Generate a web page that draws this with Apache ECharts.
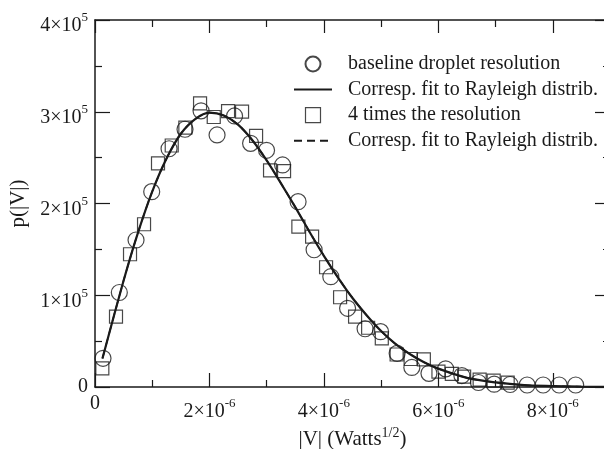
<!DOCTYPE html>
<html>
<head>
<meta charset="utf-8">
<script src="https://cdn.jsdelivr.net/npm/echarts@6/dist/echarts.min.js"></script>
<style>html,body{margin:0;padding:0;background:#fff;}#c{width:604px;height:449px;}</style>
</head>
<body>
<div id="c"></div>
<script>
// |V| in units of 1e-6 Watts^1/2, p(|V|) in units of 1e5
var baselineX = [0.14,0.425,0.717,0.991,1.294,1.573,1.853,2.133,2.439,2.719,2.998,3.278,3.549,3.829,4.121,4.414,4.72,4.991,5.28,5.537,5.836,6.128,6.411,6.701,6.976,7.255,7.552,7.832,8.112,8.40];
var baselineY = [0.313,1.03,1.602,2.129,2.597,2.809,3.01,2.747,2.954,2.656,2.58,2.42,2.02,1.496,1.202,0.858,0.635,0.603,0.367,0.213,0.149,0.198,0.125,0.049,0.031,0.027,0.022,0.022,0.022,0.022];
var fourX = [0.128,0.367,0.612,0.857,1.101,1.341,1.579,1.836,2.075,2.325,2.57,2.815,3.059,3.304,3.554,3.794,4.038,4.283,4.545,4.773,5.012,5.271,5.516,5.747,6.002,6.236,6.451,6.722,6.967,7.212];
var fourY = [0.204,0.766,1.447,1.774,2.438,2.632,2.828,3.092,2.943,3.006,3.001,2.738,2.362,2.352,1.747,1.638,1.305,0.978,0.766,0.646,0.531,0.354,0.305,0.302,0.167,0.142,0.112,0.08,0.069,0.047];
var fitX = [0.13,0.5,0.75,1.0,1.25,1.5,1.75,2.0,2.25,2.5,2.75,3.0,3.25,3.5,3.75,4.0,4.25,4.5,4.75,5.0,5.25,5.5,5.75,6.0,6.5,7.0,7.5,8.0,8.5,9.0];
var fitY = [0.31,1.16,1.68,2.13,2.49,2.76,2.92,2.99,2.96,2.86,2.69,2.47,2.22,1.96,1.69,1.43,1.19,0.97,0.78,0.61,0.47,0.36,0.27,0.20,0.10,0.05,0.02,0.01,0.003,0.001];
var xTicks = {min: 0, max: 9, interval: 2, exponent: -6};
var yTicks = {min: 0, max: 4, interval: 1, exponent: 5};
var legendNames = ['baseline droplet resolution', 'Corresp. fit to Rayleigh distrib.', '4 times the resolution', 'Corresp. fit to Rayleigh distrib. '];

function pairs(xs, ys){ return xs.map(function(x,i){ return [x, ys[i]]; }); }

var FONT = 'Liberation Serif';
var INK = '#1a1a1a';
var richX = {
  b: {fontFamily: FONT, fontSize: 20, color: INK, lineHeight: 24, verticalAlign: 'bottom'},
  s: {fontFamily: FONT, fontSize: 13, color: INK, lineHeight: 12, verticalAlign: 'top'},
  z: {fontFamily: FONT, fontSize: 20, color: INK, lineHeight: 12, verticalAlign: 'middle'}
};
var richY = {
  b: {fontFamily: FONT, fontSize: 20, color: INK, lineHeight: 32, verticalAlign: 'bottom'},
  s: {fontFamily: FONT, fontSize: 13, color: INK, lineHeight: 12, padding: [7.5,0,0,0], verticalAlign: 'top'},
  z: {fontFamily: FONT, fontSize: 20, color: INK, lineHeight: 20}
};
var richName = {
  b: {fontFamily: FONT, fontSize: 21, color: INK, lineHeight: 24, verticalAlign: 'bottom'},
  s: {fontFamily: FONT, fontSize: 14, color: INK, lineHeight: 12, verticalAlign: 'top'}
};

var axLine = {show: true, onZero: false, lineStyle: {color: INK, width: 1.5}};
function tick(len){ return {show: true, inside: true, length: len, lineStyle: {color: INK, width: 1.2}}; }
var minor = {show: true, splitNumber: 2, length: 7, lineStyle: {color: INK, width: 1.2}};

var chart = echarts.init(document.getElementById('c'), null, {renderer: 'canvas'});
chart.setOption({
  animation: false,
  backgroundColor: '#fff',
  grid: {left: 95, top: 20, width: 515, height: 367, containLabel: false, outerBoundsMode: 'none'},
  legend: {
    orient: 'vertical', left: 293, top: 54, padding: 0,
    itemWidth: 38, itemHeight: 15, itemGap: 5.6, symbolKeepAspect: true,
    data: [
      {name: legendNames[0]},
      {name: legendNames[1], itemStyle: {color: 'rgba(0,0,0,0)', borderWidth: 0}},
      {name: legendNames[2], icon: 'path://M0,0L10,0L10,10L0,10Z', itemStyle: {color: 'rgba(0,0,0,0)', borderColor: INK, borderWidth: 1.2}},
      {name: legendNames[3], itemStyle: {color: 'rgba(0,0,0,0)', borderWidth: 0}}
    ],
    textStyle: {fontFamily: FONT, fontSize: 20, color: INK, lineHeight: 20, padding: [0,0,0,11]}
  },
  xAxis: [{
    type: 'value', position: 'bottom', min: xTicks.min, max: xTicks.max, interval: xTicks.interval,
    axisLine: axLine, axisTick: tick(14), minorTick: minor, splitLine: {show: false}, minorSplitLine: {show: false},
    axisLabel: {margin: 10.5, showMaxLabel: false, rich: richX, formatter: function(v){ return v === 0 ? '{z|0}' : '{b|' + v + '×10}{s|' + xTicks.exponent + '}'; }},
    name: '{b||V| (Watts}{s|1/2}{b|)}', nameLocation: 'middle', nameGap: 31,
    nameTextStyle: {rich: richName}
  }, {
    type: 'value', position: 'top', min: xTicks.min, max: xTicks.max, interval: xTicks.interval,
    axisLine: axLine, axisTick: tick(13), minorTick: minor, splitLine: {show: false}, axisLabel: {show: false}
  }],
  yAxis: [{
    type: 'value', position: 'left', min: yTicks.min, max: yTicks.max, interval: yTicks.interval,
    axisLine: axLine, axisTick: tick(15), minorTick: minor, splitLine: {show: false}, minorSplitLine: {show: false},
    axisLabel: {margin: 7, rich: richY, formatter: function(v){ return v === 0 ? '{z|0}' : '{b|' + v + '×10}{s|' + yTicks.exponent + '}'; }},
    name: 'p(|V|)', nameLocation: 'middle', nameGap: 53,
    nameTextStyle: {fontFamily: FONT, fontSize: 21, color: INK}
  }, {
    type: 'value', position: 'right', min: yTicks.min, max: yTicks.max, interval: yTicks.interval,
    axisLine: axLine, axisTick: tick(15), minorTick: minor, splitLine: {show: false}, axisLabel: {show: false}
  }],
  series: [
    {
      name: legendNames[0], type: 'scatter', symbol: 'circle', symbolSize: 16, z: 3,
      itemStyle: {color: 'rgba(0,0,0,0)', borderColor: INK, borderWidth: 1.2},
      data: pairs(baselineX, baselineY)
    },
    {
      name: legendNames[1], type: 'line', symbol: 'none', smooth: 0.3, z: 5, color: INK,
      lineStyle: {color: INK, width: 2.2, type: 'solid'},
      data: pairs(fitX, fitY)
    },
    {
      name: legendNames[2], type: 'scatter', symbol: 'rect', symbolSize: 13, z: 3,
      itemStyle: {color: 'rgba(0,0,0,0)', borderColor: INK, borderWidth: 1.2},
      data: pairs(fourX, fourY)
    },
    {
      name: legendNames[3], type: 'line', symbol: 'none', smooth: 0.3, z: 4, color: INK,
      lineStyle: {color: INK, width: 1.6, type: [8, 5]},
      data: pairs(fitX, fitY)
    }
  ]
});
</script>
</body>
</html>
